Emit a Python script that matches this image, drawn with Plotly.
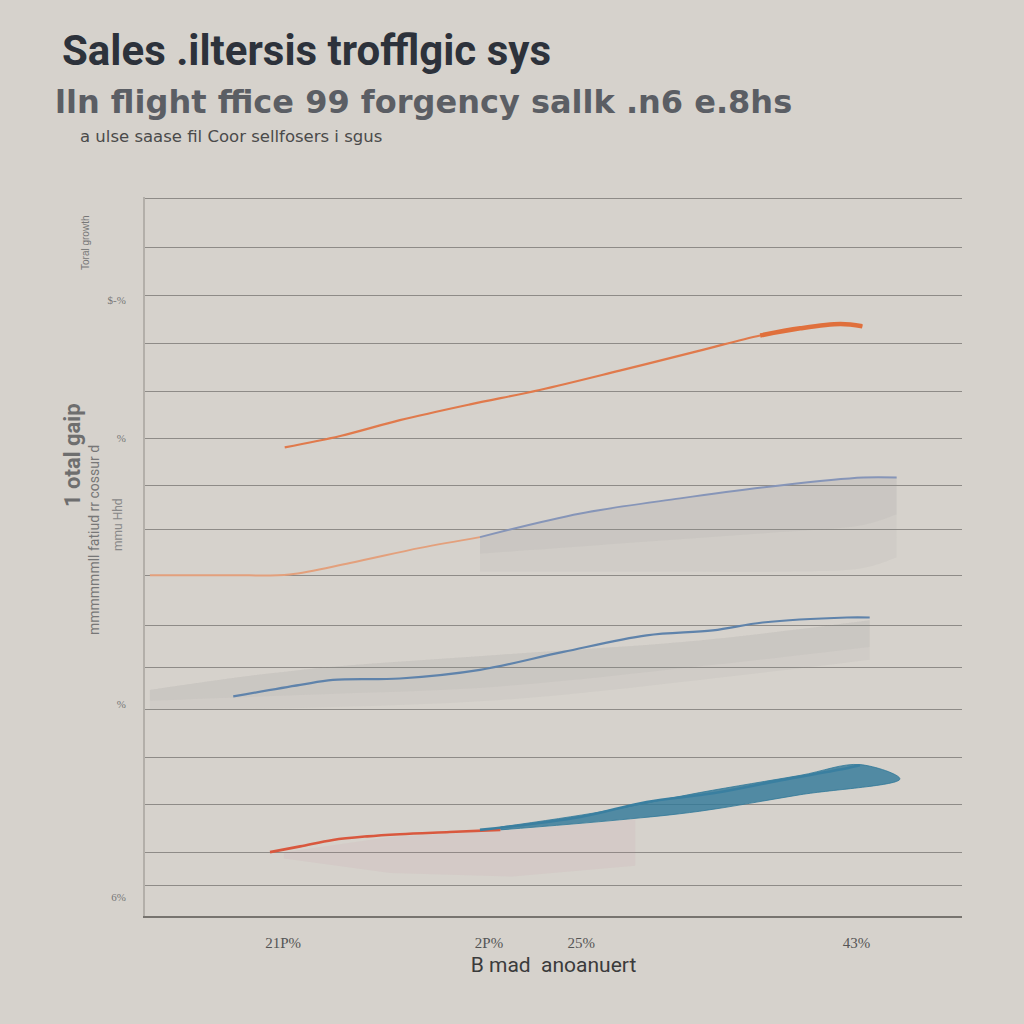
import plotly.graph_objects as go

# ---------------- data (axis units: x 0-100, y 0-100) ----------------
grid_y = [100.0, 93.2, 86.5, 79.8, 73.1, 66.6, 60.0, 53.8, 47.5, 40.5, 34.7, 28.8, 22.1, 15.5, 8.8, 4.2]

x_tick_vals = [16.9, 42.1, 53.4, 87.1]
x_tick_text = ["21P%", "2P%", "25%", "43%"]

y_tick_vals = [85.8, 66.6, 29.5, 2.6]
y_tick_text = ["$-%", "%", "%", "6%"]

a_x = [17.1, 23.9, 31.2, 39.8, 48.3, 58.1, 67.9, 75.3, 80.2, 85.1, 87.8]
a_y = [65.3, 66.9, 69.1, 71.3, 73.3, 76.0, 78.8, 80.9, 81.9, 82.5, 82.2]

b1_x = [0.6, 10.4, 17.7, 25.1, 33.7, 41.0]
b1_y = [47.5, 47.5, 47.6, 49.2, 51.3, 52.8]
b2_x = [41.0, 53.3, 65.5, 77.7, 87.9, 92.0]
b2_y = [52.8, 56.1, 58.2, 60.0, 61.1, 61.1]
b_floor = [48.0, 48.0, 48.0, 48.0, 48.5, 50.0]
b_floor2 = [50.5, 51.5, 52.5, 53.5, 54.5, 56.0]

c_x = [10.8, 19.0, 23.0, 31.2, 41.0, 51.2, 61.4, 69.5, 75.6, 85.9, 88.7]
c_y = [30.6, 32.2, 32.9, 33.1, 34.3, 36.8, 39.1, 39.8, 40.9, 41.6, 41.6]
band_x = [0.6, 19.0, 43.5, 67.9, 88.7]
band_hi = [31.5, 34.3, 36.4, 38.4, 41.2]
band_lo = [28.7, 29.0, 30.1, 32.9, 35.7]
band_lo2 = [30.0, 30.8, 32.0, 34.8, 37.5]

d1_x = [15.3, 19.0, 23.0, 27.2, 31.2, 37.3, 43.5]
d1_y = [8.9, 9.7, 10.6, 11.1, 11.4, 11.7, 12.0]
d2_x = [41.0, 53.3, 61.4, 69.5, 77.7, 85.9, 87.5]
d2_y = [12.0, 13.8, 15.9, 17.1, 18.9, 20.6, 21.0]
teal_up_x = [43.5, 55.7, 67.9, 80.2, 87.5]
teal_up_y = [12.4, 14.5, 17.2, 19.6, 21.1]
teal_lo_x = [43.5, 58.1, 67.9, 80.2, 92.4]
teal_lo_y = [12.0, 13.4, 14.6, 16.9, 19.1]
pink_x = [17.0, 30.0, 45.0, 60.0, 60.0, 45.0, 30.0, 17.0]
pink_y = [8.9, 11.0, 12.0, 13.5, 7.0, 5.5, 6.0, 8.0]

BG = "#d6d2cc"

fig = go.Figure()

def band(x, lo, hi, color):
    fig.add_trace(go.Scatter(x=x, y=lo, mode="lines", line=dict(width=0, shape="spline"),
                             hoverinfo="skip", showlegend=False))
    fig.add_trace(go.Scatter(x=x, y=hi, mode="lines", line=dict(width=0, shape="spline"), fill="tonexty",
                             fillcolor=color, hoverinfo="skip", showlegend=False))

# soft shaded areas
fig.add_trace(go.Scatter(x=pink_x, y=pink_y, fill="toself", mode="none",
                         fillcolor="rgba(185,120,140,0.08)", hoverinfo="skip", showlegend=False))
band(b2_x, b_floor, b2_y, "rgba(140,140,140,0.08)")
band(b2_x, b_floor2, b2_y, "rgba(140,140,140,0.09)")
band(band_x, band_lo, band_hi, "rgba(140,140,140,0.08)")
band(band_x, band_lo2, band_hi, "rgba(140,140,140,0.08)")
fig.add_trace(go.Scatter(x=teal_up_x + teal_lo_x[::-1], y=teal_up_y + teal_lo_y[::-1],
                         fill="toself", mode="lines",
                         line=dict(width=1, color="rgba(47,120,152,0.8)", shape="spline"),
                         fillcolor="rgba(47,120,152,0.8)", hoverinfo="skip", showlegend=False))

# lines
fig.add_trace(go.Scatter(x=a_x, y=a_y, mode="lines", line=dict(color="#e07a4c", width=2.2, shape="spline"),
                         name="A", showlegend=False))
fig.add_trace(go.Scatter(x=a_x[-4:], y=a_y[-4:], mode="lines", line=dict(color="#e0703c", width=4.5, shape="spline"),
                         hoverinfo="skip", showlegend=False))
fig.add_trace(go.Scatter(x=b1_x, y=b1_y, mode="lines", line=dict(color="#e3a07c", width=2, shape="spline"),
                         name="B", showlegend=False))
fig.add_trace(go.Scatter(x=b2_x, y=b2_y, mode="lines", line=dict(color="#8695b8", width=2, shape="spline"),
                         hoverinfo="skip", showlegend=False))
fig.add_trace(go.Scatter(x=c_x, y=c_y, mode="lines", line=dict(color="#5f83ab", width=2.2, shape="spline"),
                         name="C", showlegend=False))
fig.add_trace(go.Scatter(x=d1_x, y=d1_y, mode="lines", line=dict(color="#d9583e", width=2.6, shape="spline"),
                         name="D", showlegend=False))
fig.add_trace(go.Scatter(x=d2_x, y=d2_y, mode="lines", line=dict(color="#3a7fa0", width=2.6, shape="spline"),
                         hoverinfo="skip", showlegend=False))

# invisible trace for secondary y axis (tick labels)
fig.add_trace(go.Scatter(x=[None], y=[None], yaxis="y2", showlegend=False, hoverinfo="skip"))

fig.update_layout(
    width=1024, height=1024,
    margin=dict(l=145, r=62, t=197, b=108),
    paper_bgcolor=BG, plot_bgcolor=BG,
    showlegend=False,
    xaxis=dict(range=[0, 100], tickvals=x_tick_vals, ticktext=x_tick_text, showgrid=False,
               zeroline=False, showline=True, linecolor="#77746f", linewidth=1.5,
               ticks="outside", ticklen=12, tickcolor="rgba(0,0,0,0)",
               tickfont=dict(family="Liberation Serif", size=15, color="#555"),
               title=dict(text="B mad  anoanuert", font=dict(family="Roboto", size=21, color="#3b3b3b"),
                          standoff=8)),
    yaxis=dict(range=[0, 100.2], tickvals=grid_y, showticklabels=False, showgrid=True,
               gridcolor="#8e8b87", gridwidth=1.3, zeroline=False, showline=True,
               linecolor="#b3afa9", linewidth=1.5, ticks=""),
    yaxis2=dict(range=[0, 100.2], overlaying="y", side="left", anchor="x", tickvals=y_tick_vals,
                ticktext=y_tick_text, showgrid=False, zeroline=False, showline=False,
                ticks="outside", ticklen=16, tickcolor="rgba(0,0,0,0)",
                tickfont=dict(family="Liberation Serif", size=11, color="#777")),
)

def px_x(p):
    return (p - 145) / 817

def px_y(p):
    return (916 - p) / 719

annotations = [
    dict(text="<b>Sales .iltersis trofflgic sys</b>", x=px_x(60), y=px_y(50), xanchor="left",
         yanchor="middle", font=dict(family="Roboto", size=42, color="#2d323b")),
    dict(text="<b>lln flight ffice 99 forgency sallk .n6 e.8hs</b>", x=px_x(53), y=px_y(102),
         xanchor="left", yanchor="middle", font=dict(family="DejaVu Sans", size=32, color="#5b5e64")),
    dict(text="a ulse saase fil Coor sellfosers i sgus", x=px_x(78), y=px_y(136), xanchor="left",
         yanchor="middle", font=dict(family="DejaVu Sans", size=16.5, color="#4a4a4a")),
    dict(text="Toral growth", x=px_x(85), y=px_y(243), textangle=-90, xanchor="center",
         yanchor="middle", font=dict(family="Liberation Sans", size=10, color="#777")),
    dict(text="<b>1 otal gaip</b>", x=px_x(72), y=px_y(455), textangle=-90, xanchor="center",
         yanchor="middle", font=dict(family="Roboto", size=22, color="#6e6e6e")),
    dict(text="mmmmmmll fatiud rr cossur d", x=px_x(94), y=px_y(540), textangle=-90, xanchor="center",
         yanchor="middle", font=dict(family="Roboto", size=14, color="#777")),
    dict(text="mmu Hhd", x=px_x(118), y=px_y(525), textangle=-90, xanchor="center",
         yanchor="middle", font=dict(family="Roboto", size=12, color="#888")),
]
for a in annotations:
    a.update(xref="paper", yref="paper", showarrow=False)
fig.update_layout(annotations=annotations)

fig.write_html("out.html")
